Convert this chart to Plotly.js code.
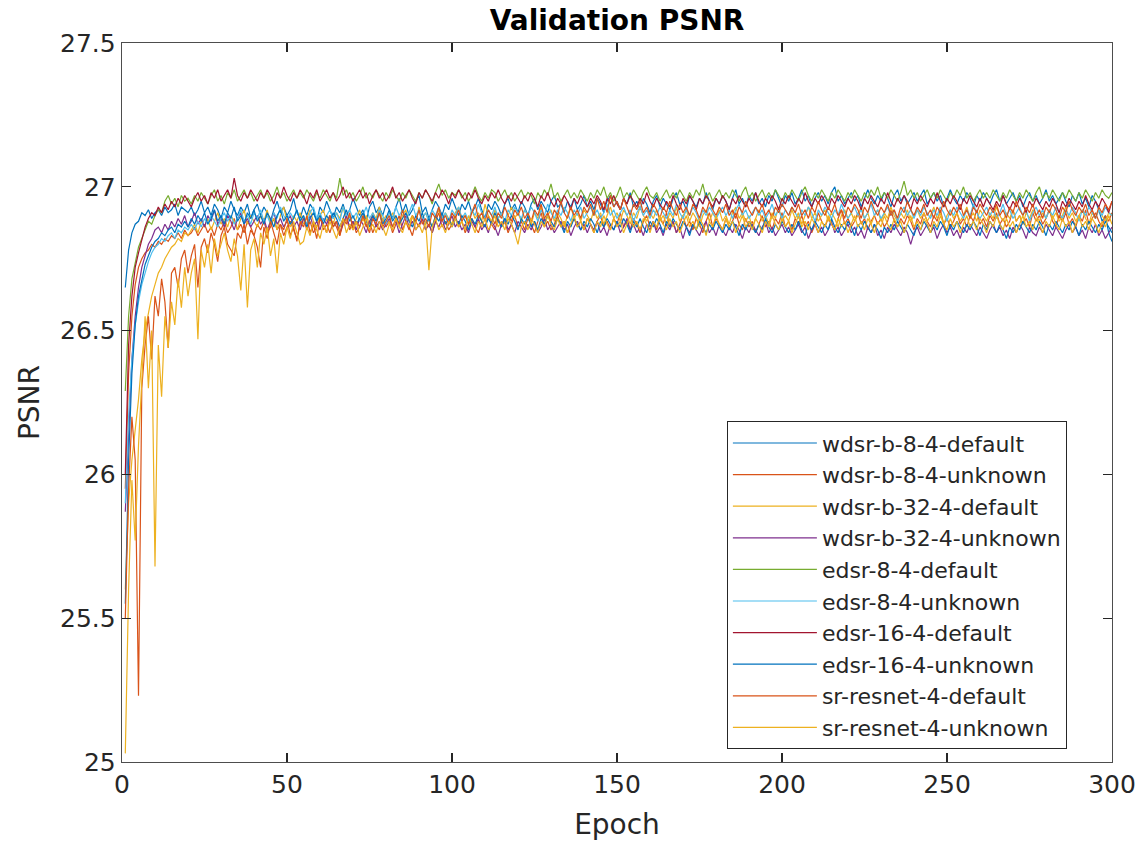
<!DOCTYPE html>
<html>
<head>
<meta charset="utf-8">
<script src="https://cdn.plot.ly/plotly-3.0.1.min.js"></script>
<style>html,body{margin:0;padding:0;background:#fff;}#chart{width:1144px;height:846px;}</style>
</head>
<body>
<div id="chart"></div>
<script>
const seriesNames = ["wdsr-b-8-4-default","wdsr-b-8-4-unknown","wdsr-b-32-4-default","wdsr-b-32-4-unknown","edsr-8-4-default","edsr-8-4-unknown","edsr-16-4-default","edsr-16-4-unknown","sr-resnet-4-default","sr-resnet-4-unknown"];
const seriesColors = ["#0072BD","#D95319","#EDB120","#7E2F8E","#77AC30","#4DBEEE","#A2142F","#0072BD","#D95319","#EDB120"];

const wdsr_b_8_4_default = [
26.65,26.78,26.84,26.87,26.88,26.91,26.90,26.92,26.89,26.91,26.92,26.90,26.93,26.91,26.92,26.94,26.90,26.93,26.92,26.91,
26.93,26.90,26.92,26.95,26.91,26.93,26.90,26.94,26.92,26.89,26.93,26.91,26.95,26.92,26.90,26.93,26.91,26.94,26.89,26.92,
26.94,26.90,26.93,26.91,26.88,26.92,26.95,26.91,26.93,26.90,26.92,26.96,26.91,26.89,26.93,26.90,26.94,26.92,26.88,26.93,
26.91,26.95,26.92,26.89,26.93,26.91,26.94,26.90,26.92,26.96,26.93,26.90,26.92,26.88,26.93,26.95,26.91,26.93,26.90,26.94,
26.92,26.89,26.93,26.96,26.91,26.94,26.90,26.92,26.95,26.97,26.91,26.93,26.89,26.92,26.95,26.93,26.90,26.94,26.92,26.96,
26.93,26.90,26.94,26.92,26.95,26.91,26.93,26.96,26.92,26.89,26.94,26.92,26.95,26.93,26.90,26.94,26.96,26.92,26.94,26.91,
26.95,26.93,26.90,26.94,26.96,26.92,26.95,26.93,26.91,26.95,26.97,26.93,26.94,26.91,26.95,26.93,26.96,26.92,26.94,26.97,
26.93,26.95,26.92,26.96,26.94,26.91,26.95,26.97,26.93,26.95,26.92,26.96,26.94,26.98,26.93,26.95,26.92,26.96,26.94,26.91,
26.95,26.97,26.93,26.96,26.94,26.92,26.96,26.98,26.94,26.95,26.92,26.97,26.95,26.93,26.96,26.94,26.98,26.95,26.92,26.96,
26.94,26.97,26.95,26.92,26.96,26.99,26.94,26.96,26.93,26.97,26.95,26.98,26.94,26.96,26.93,26.97,26.95,26.99,26.96,26.93,
26.97,26.95,26.98,26.94,26.96,26.99,26.95,26.97,26.93,26.96,26.98,26.95,26.97,26.94,26.98,27.00,26.95,26.97,26.94,26.96,
26.98,26.95,26.97,26.93,26.96,26.99,26.96,26.94,26.97,26.95,26.98,26.96,26.93,26.97,26.99,26.95,26.97,26.94,26.96,26.98,
26.95,26.97,26.99,26.94,26.96,26.98,26.95,26.97,26.93,26.96,26.99,26.96,26.94,26.97,26.95,26.98,26.96,26.93,26.97,26.95,
26.98,26.96,26.94,26.97,26.99,26.95,26.97,26.94,26.96,26.98,26.95,26.97,26.93,26.96,26.98,26.95,26.97,26.94,26.96,26.99,
26.95,26.97,26.94,26.96,26.98,26.95,26.93,26.97,26.95,26.98,26.94,26.96,26.93,26.97,26.95,26.92,26.88,26.90,26.84,26.81];

const wdsr_b_8_4_unknown = [
25.95,26.35,26.55,26.66,26.72,26.75,26.77,26.78,26.80,26.79,26.81,26.80,26.82,26.81,26.83,26.82,26.84,26.82,26.85,26.83,
26.84,26.86,26.83,26.85,26.87,26.84,26.86,26.83,26.87,26.85,26.88,26.84,26.86,26.89,26.85,26.87,26.84,26.88,26.86,26.83,
26.87,26.85,26.88,26.84,26.86,26.89,26.85,26.87,26.83,26.86,26.88,26.85,26.82,26.87,26.89,26.85,26.88,26.84,26.86,26.90,
26.85,26.87,26.84,26.88,26.86,26.83,26.87,26.89,26.85,26.88,26.84,26.86,26.90,26.86,26.88,26.84,26.87,26.85,26.89,26.86,
26.88,26.84,26.87,26.90,26.85,26.88,26.86,26.83,26.88,26.86,26.89,26.85,26.87,26.84,26.88,26.91,26.86,26.88,26.85,26.87,
26.90,26.86,26.88,26.84,26.87,26.89,26.86,26.84,26.88,26.86,26.90,26.87,26.85,26.89,26.86,26.88,26.84,26.87,26.90,26.86,
26.88,26.85,26.89,26.87,26.84,26.88,26.91,26.86,26.88,26.85,26.87,26.90,26.86,26.88,26.84,26.87,26.89,26.86,26.88,26.85,
26.89,26.87,26.84,26.88,26.90,26.86,26.88,26.85,26.89,26.87,26.91,26.86,26.88,26.85,26.89,26.87,26.84,26.88,26.90,26.86,
26.88,26.85,26.89,26.87,26.91,26.86,26.88,26.84,26.87,26.90,26.86,26.88,26.85,26.89,26.87,26.84,26.88,26.91,26.86,26.89,
26.87,26.85,26.89,26.86,26.88,26.91,26.87,26.85,26.89,26.86,26.88,26.84,26.87,26.90,26.86,26.88,26.85,26.89,26.87,26.91,
26.86,26.88,26.85,26.89,26.87,26.90,26.86,26.88,26.84,26.87,26.91,26.88,26.86,26.89,26.87,26.85,26.89,26.92,26.87,26.89,
26.86,26.88,26.91,26.87,26.89,26.85,26.88,26.90,26.87,26.89,26.86,26.88,26.92,26.88,26.86,26.89,26.87,26.90,26.88,26.85,
26.89,26.87,26.91,26.88,26.86,26.90,26.88,26.92,26.87,26.89,26.86,26.88,26.91,26.87,26.89,26.86,26.90,26.88,26.92,26.87,
26.89,26.86,26.90,26.88,26.91,26.87,26.89,26.86,26.88,26.92,26.88,26.90,26.87,26.89,26.86,26.91,26.88,26.90,26.87,26.89,
26.92,26.88,26.86,26.90,26.88,26.91,26.87,26.89,26.86,26.90,26.88,26.92,26.87,26.89,26.91,26.88,26.86,26.90,26.88,26.91];

const wdsr_b_32_4_default = [
25.60,25.90,26.05,26.15,26.26,26.40,26.50,26.56,26.62,26.66,26.70,26.72,26.75,26.77,26.79,26.80,26.82,26.81,26.84,26.83,
26.85,26.87,26.84,26.88,26.86,26.89,26.85,26.88,26.91,26.87,26.89,26.86,26.90,26.88,26.85,26.89,26.92,26.87,26.90,26.88,
26.86,26.90,26.88,26.92,26.87,26.89,26.85,26.90,26.93,26.88,26.86,26.90,26.88,26.91,26.87,26.89,26.92,26.88,26.86,26.90,
26.92,26.88,26.90,26.87,26.91,26.89,26.93,26.88,26.90,26.86,26.89,26.92,26.88,26.90,26.87,26.91,26.89,26.93,26.88,26.90,
26.87,26.91,26.89,26.86,26.90,26.92,26.88,26.90,26.87,26.93,26.89,26.91,26.88,26.86,26.90,26.92,26.88,26.91,26.89,26.87,
26.91,26.93,26.89,26.90,26.87,26.92,26.89,26.91,26.88,26.94,26.90,26.88,26.92,26.89,26.91,26.87,26.90,26.93,26.89,26.91,
26.88,26.92,26.90,26.87,26.91,26.89,26.93,26.88,26.90,26.92,26.88,26.91,26.89,26.86,26.90,26.93,26.89,26.91,26.88,26.92,
26.90,26.88,26.92,26.89,26.91,26.87,26.90,26.93,26.89,26.91,26.88,26.92,26.90,26.87,26.91,26.89,26.93,26.90,26.88,26.91,
26.89,26.92,26.88,26.90,26.87,26.91,26.89,26.93,26.88,26.90,26.92,26.88,26.91,26.89,26.86,26.90,26.92,26.88,26.91,26.89,
26.92,26.88,26.90,26.87,26.91,26.93,26.89,26.91,26.88,26.90,26.86,26.89,26.92,26.88,26.90,26.87,26.91,26.89,26.93,26.88,
26.90,26.88,26.92,26.89,26.91,26.87,26.90,26.93,26.89,26.91,26.88,26.90,26.92,26.88,26.91,26.89,26.86,26.90,26.92,26.89,
26.91,26.88,26.90,26.93,26.89,26.91,26.87,26.90,26.92,26.88,26.91,26.89,26.93,26.90,26.88,26.91,26.89,26.92,26.88,26.90,
26.92,26.89,26.91,26.88,26.90,26.93,26.89,26.91,26.87,26.90,26.92,26.89,26.91,26.88,26.90,26.93,26.89,26.91,26.88,26.92,
26.90,26.88,26.91,26.89,26.93,26.90,26.88,26.91,26.89,26.92,26.88,26.90,26.87,26.91,26.89,26.92,26.90,26.88,26.91,26.89,
26.92,26.89,26.91,26.88,26.90,26.93,26.89,26.91,26.88,26.90,26.92,26.89,26.87,26.91,26.89,26.92,26.90,26.88,26.91,26.90];

const wdsr_b_32_4_unknown = [
25.87,26.15,26.40,26.55,26.65,26.72,26.76,26.80,26.82,26.85,26.86,26.84,26.87,26.85,26.88,26.86,26.89,26.87,26.90,26.86,
26.88,26.91,26.87,26.89,26.86,26.90,26.88,26.92,26.87,26.89,26.86,26.90,26.88,26.85,26.89,26.91,26.87,26.89,26.86,26.88,
26.90,26.87,26.89,26.85,26.88,26.91,26.87,26.89,26.86,26.88,26.90,26.86,26.88,26.85,26.89,26.87,26.90,26.86,26.88,26.85,
26.89,26.87,26.90,26.86,26.88,26.84,26.87,26.90,26.86,26.88,26.85,26.89,26.87,26.84,26.88,26.90,26.86,26.88,26.85,26.87,
26.89,26.86,26.88,26.84,26.87,26.90,26.86,26.88,26.85,26.87,26.89,26.85,26.87,26.84,26.88,26.86,26.89,26.85,26.87,26.90,
26.86,26.88,26.85,26.87,26.84,26.88,26.86,26.89,26.85,26.87,26.84,26.88,26.86,26.83,26.87,26.89,26.85,26.87,26.84,26.88,
26.86,26.84,26.87,26.85,26.88,26.84,26.86,26.89,26.85,26.87,26.84,26.86,26.88,26.85,26.87,26.83,26.86,26.88,26.85,26.87,
26.84,26.87,26.85,26.88,26.84,26.86,26.83,26.87,26.85,26.88,26.84,26.86,26.89,26.85,26.87,26.84,26.86,26.83,26.87,26.85,
26.88,26.84,26.86,26.83,26.87,26.85,26.88,26.84,26.86,26.82,26.86,26.84,26.87,26.85,26.83,26.86,26.88,26.84,26.86,26.83,
26.87,26.85,26.83,26.86,26.84,26.87,26.85,26.82,26.86,26.84,26.87,26.85,26.83,26.86,26.88,26.84,26.86,26.83,26.85,26.87,
26.84,26.86,26.83,26.85,26.87,26.84,26.86,26.82,26.85,26.87,26.84,26.86,26.83,26.85,26.88,26.84,26.86,26.83,26.85,26.87,
26.84,26.86,26.83,26.85,26.82,26.86,26.84,26.87,26.83,26.85,26.82,26.86,26.84,26.87,26.85,26.83,26.86,26.84,26.80,26.84,
26.86,26.83,26.85,26.87,26.84,26.86,26.82,26.85,26.87,26.84,26.86,26.83,26.85,26.82,26.86,26.84,26.87,26.85,26.83,26.86,
26.84,26.82,26.85,26.87,26.84,26.86,26.83,26.85,26.82,26.86,26.84,26.87,26.85,26.82,26.86,26.84,26.83,26.86,26.84,26.87,
26.85,26.83,26.86,26.84,26.82,26.85,26.87,26.84,26.86,26.83,26.85,26.82,26.86,26.84,26.87,26.83,26.85,26.82,26.84,26.86];

const edsr_8_4_default = [
26.29,26.55,26.68,26.74,26.79,26.82,26.85,26.88,26.87,26.90,26.92,26.91,26.95,26.97,26.94,26.96,26.93,26.97,26.95,26.96,
26.94,26.97,26.95,26.98,26.96,26.94,26.97,26.99,26.95,26.97,26.94,26.98,26.96,26.99,26.95,26.97,26.99,26.96,26.98,26.95,
26.97,26.99,26.96,26.98,26.95,26.97,27.00,26.96,26.98,26.95,26.97,26.99,26.96,26.98,26.96,26.99,26.97,26.95,26.98,26.96,
26.99,26.97,26.95,26.98,26.96,27.03,26.97,26.99,26.96,26.98,26.95,26.97,27.00,26.96,26.98,26.96,26.99,26.97,26.95,26.98,
26.96,26.99,26.97,26.95,26.98,26.96,26.99,26.97,26.95,26.98,26.96,26.99,26.97,26.94,26.98,27.01,26.97,26.99,26.96,26.98,
26.97,26.99,26.96,26.98,26.95,26.97,27.00,26.97,26.95,26.98,26.96,26.99,26.98,26.95,26.97,26.99,26.96,26.98,26.95,26.97,
26.99,26.96,26.98,26.97,26.94,26.98,26.96,26.99,26.97,27.01,26.96,26.98,26.95,26.97,26.99,26.96,26.98,26.96,26.99,26.97,
26.95,26.98,26.96,26.99,26.97,27.00,26.96,26.98,26.95,26.97,27.00,26.96,26.98,26.96,26.99,26.97,26.95,26.98,27.00,26.97,
26.96,26.98,26.95,26.97,26.99,26.96,26.98,26.96,26.99,26.97,26.95,26.98,26.96,26.99,26.97,27.01,26.96,26.98,26.95,26.97,
26.99,26.96,26.98,26.96,26.99,26.97,26.95,26.98,27.00,26.96,26.98,26.95,26.97,26.99,26.96,26.98,26.96,26.99,26.97,26.95,
26.98,26.96,26.99,26.97,26.95,26.98,27.00,26.97,26.95,26.98,26.96,26.99,26.97,26.95,26.98,26.96,26.99,26.97,26.95,26.98,
26.96,26.99,26.97,26.95,26.98,26.96,26.99,26.97,27.00,26.96,26.98,26.96,26.99,26.97,26.95,26.98,27.02,26.97,26.99,26.96,
26.98,26.95,26.97,26.99,26.96,26.98,26.96,26.99,26.97,26.95,26.98,26.96,26.99,26.97,27.00,26.96,26.98,26.95,26.97,26.99,
26.96,26.98,26.96,26.99,26.97,26.95,26.98,26.96,26.99,26.97,26.95,26.98,26.96,26.99,26.97,26.95,26.98,27.00,26.96,26.98,
26.96,26.99,26.97,26.95,26.98,26.96,26.99,26.97,26.95,26.98,26.96,26.99,26.97,26.95,26.98,26.96,26.99,26.97,26.96,26.98];

const edsr_8_4_unknown = [
25.90,26.20,26.40,26.52,26.60,26.66,26.70,26.74,26.77,26.79,26.80,26.82,26.81,26.83,26.84,26.82,26.85,26.84,26.86,26.85,
26.87,26.85,26.88,26.86,26.89,26.87,26.90,26.88,26.86,26.89,26.91,26.88,26.90,26.87,26.89,26.92,26.88,26.90,26.87,26.91,
26.89,26.92,26.88,26.90,26.87,26.91,26.89,26.93,26.90,26.88,26.91,26.89,26.92,26.88,26.90,26.87,26.91,26.93,26.89,26.91,
26.88,26.90,26.92,26.89,26.91,26.88,26.93,26.90,26.92,26.89,26.91,26.88,26.90,26.93,26.89,26.91,26.88,26.92,26.90,26.87,
26.91,26.89,26.93,26.90,26.92,26.88,26.91,26.94,26.90,26.92,26.89,26.91,26.88,26.92,26.90,26.93,26.89,26.91,26.88,26.92,
26.90,26.93,26.89,26.91,26.88,26.92,26.90,26.94,26.91,26.89,26.92,26.90,26.93,26.89,26.91,26.88,26.92,26.90,26.93,26.91,
26.89,26.92,26.90,26.93,26.91,26.88,26.92,26.90,26.94,26.91,26.89,26.92,26.90,26.93,26.91,26.88,26.92,26.90,26.93,26.89,
26.91,26.93,26.90,26.92,26.89,26.91,26.94,26.90,26.92,26.89,26.91,26.93,26.90,26.92,26.88,26.91,26.93,26.90,26.92,26.89,
26.92,26.90,26.93,26.91,26.89,26.92,26.90,26.94,26.91,26.89,26.92,26.90,26.93,26.91,26.88,26.92,26.90,26.93,26.91,26.89,
26.91,26.93,26.90,26.92,26.89,26.92,26.94,26.90,26.92,26.89,26.91,26.93,26.90,26.92,26.89,26.91,26.94,26.90,26.92,26.89,
26.92,26.90,26.93,26.91,26.89,26.92,26.90,26.93,26.91,26.88,26.92,26.90,26.93,26.91,26.89,26.92,26.90,26.94,26.91,26.89,
26.91,26.93,26.90,26.92,26.89,26.91,26.94,26.90,26.92,26.89,26.91,26.93,26.90,26.92,26.88,26.91,26.93,26.90,26.92,26.89,
26.92,26.90,26.93,26.91,26.89,26.92,26.90,26.93,26.91,26.88,26.92,26.90,26.93,26.91,26.89,26.92,26.90,26.94,26.91,26.89,
26.91,26.93,26.90,26.92,26.89,26.91,26.94,26.90,26.92,26.89,26.91,26.93,26.90,26.92,26.88,26.91,26.93,26.90,26.92,26.89,
26.92,26.90,26.93,26.91,26.89,26.92,26.90,26.93,26.91,26.88,26.92,26.90,26.93,26.91,26.89,26.92,26.90,26.93,26.91,26.90];

const edsr_16_4_default = [
26.00,26.45,26.62,26.72,26.77,26.82,26.86,26.89,26.91,26.90,26.93,26.91,26.94,26.92,26.95,26.93,26.96,26.94,26.97,26.95,
26.93,26.96,26.98,26.95,26.97,26.94,26.98,26.96,26.99,26.95,26.97,26.99,26.96,27.03,26.97,26.95,26.98,26.96,26.99,26.97,
26.95,26.98,26.96,26.99,26.97,26.94,26.98,26.96,27.00,26.97,26.95,26.98,26.96,26.99,26.97,26.94,26.98,26.96,26.99,26.95,
26.97,26.99,26.96,26.98,26.95,26.97,27.00,26.96,26.98,26.95,26.97,26.99,26.96,26.98,26.94,26.97,26.99,26.96,26.98,26.95,
26.97,27.00,26.96,26.98,26.95,26.97,26.99,26.96,26.94,26.98,26.96,26.99,26.97,26.95,26.98,26.96,26.99,26.97,26.94,26.98,
26.96,26.99,26.97,26.95,26.98,26.96,26.99,26.96,26.94,26.97,26.95,26.98,26.96,26.99,26.96,26.94,26.97,26.95,26.98,26.96,
26.94,26.97,26.95,26.98,26.96,26.93,26.97,26.95,26.98,26.95,26.93,26.96,26.94,26.97,26.95,26.92,26.96,26.94,26.97,26.95,
26.93,26.96,26.94,26.97,26.95,26.92,26.96,26.94,26.97,26.94,26.92,26.96,26.94,26.97,26.95,26.93,26.96,26.94,26.98,26.95,
26.93,26.96,26.94,26.92,26.95,26.93,26.97,26.94,26.92,26.96,26.94,26.97,26.95,26.92,26.96,26.94,26.97,26.95,26.93,26.96,
26.94,26.97,26.95,26.92,26.96,26.94,26.97,26.95,26.93,26.96,26.94,26.98,26.95,26.93,26.96,26.94,26.97,26.95,26.92,26.96,
26.94,26.97,26.95,26.93,26.96,26.94,26.98,26.95,26.93,26.96,26.94,26.97,26.95,26.92,26.96,26.94,26.97,26.95,26.93,26.96,
26.94,26.97,26.95,26.92,26.96,26.94,26.97,26.95,26.93,26.96,26.94,26.98,26.95,26.93,26.96,26.94,26.97,26.95,26.92,26.96,
26.94,26.97,26.95,26.93,26.96,26.94,26.98,26.95,26.93,26.96,26.94,26.97,26.95,26.92,26.96,26.94,26.97,26.95,26.93,26.96,
26.93,26.96,26.94,26.92,26.95,26.93,26.97,26.94,26.92,26.95,26.93,26.96,26.94,26.91,26.95,26.93,26.96,26.94,26.92,26.95,
26.93,26.96,26.94,26.91,26.95,26.93,26.96,26.94,26.92,26.95,26.93,26.97,26.94,26.92,26.95,26.93,26.96,26.94,26.91,26.95];

const edsr_16_4_unknown = [
25.55,26.05,26.35,26.52,26.62,26.68,26.73,26.76,26.79,26.81,26.82,26.84,26.83,26.85,26.86,26.84,26.87,26.86,26.88,26.86,
26.89,26.87,26.90,26.88,26.91,26.87,26.89,26.92,26.88,26.90,26.87,26.91,26.89,26.93,26.88,26.90,26.87,26.91,26.89,26.92,
26.88,26.90,26.87,26.91,26.89,26.86,26.90,26.92,26.88,26.90,26.87,26.89,26.92,26.88,26.90,26.86,26.89,26.91,26.88,26.90,
26.87,26.90,26.88,26.91,26.89,26.86,26.89,26.92,26.88,26.90,26.87,26.89,26.91,26.88,26.86,26.90,26.88,26.91,26.87,26.89,
26.92,26.88,26.90,26.87,26.89,26.91,26.88,26.86,26.90,26.88,26.91,26.87,26.89,26.86,26.90,26.88,26.91,26.87,26.89,26.86,
26.89,26.87,26.90,26.88,26.85,26.89,26.87,26.90,26.88,26.86,26.89,26.87,26.91,26.88,26.86,26.89,26.87,26.90,26.88,26.85,
26.89,26.87,26.90,26.86,26.88,26.85,26.89,26.87,26.90,26.88,26.86,26.89,26.87,26.84,26.88,26.86,26.89,26.87,26.85,26.88,
26.86,26.89,26.87,26.84,26.88,26.86,26.89,26.87,26.85,26.88,26.86,26.89,26.87,26.84,26.88,26.86,26.89,26.86,26.84,26.88,
26.86,26.89,26.87,26.84,26.88,26.86,26.89,26.87,26.85,26.88,26.86,26.83,26.87,26.85,26.88,26.86,26.84,26.87,26.85,26.88,
26.86,26.84,26.87,26.85,26.88,26.86,26.83,26.87,26.85,26.88,26.86,26.84,26.87,26.85,26.89,26.86,26.84,26.87,26.85,26.88,
26.86,26.84,26.87,26.85,26.88,26.85,26.83,26.87,26.85,26.88,26.86,26.84,26.87,26.85,26.89,26.86,26.84,26.87,26.85,26.88,
26.86,26.83,26.87,26.85,26.88,26.86,26.84,26.87,26.85,26.82,26.86,26.84,26.87,26.85,26.88,26.86,26.84,26.87,26.85,26.83,
26.87,26.85,26.88,26.86,26.84,26.87,26.85,26.88,26.86,26.83,26.87,26.85,26.88,26.86,26.84,26.87,26.85,26.88,26.86,26.83,
26.87,26.85,26.88,26.86,26.84,26.87,26.85,26.82,26.86,26.84,26.87,26.85,26.88,26.86,26.84,26.87,26.85,26.88,26.86,26.83,
26.87,26.85,26.88,26.86,26.84,26.87,26.85,26.88,26.86,26.83,26.87,26.85,26.88,26.86,26.84,26.87,26.85,26.88,26.86,26.84];

const sr_resnet_4_default = [
25.50,25.95,26.20,26.05,25.23,26.30,26.45,26.55,26.40,26.62,26.55,26.68,26.60,26.44,26.70,26.72,26.65,26.75,26.78,26.70,
26.76,26.80,26.65,26.79,26.82,26.77,26.84,26.80,26.74,26.83,26.86,26.80,26.78,26.76,26.84,26.82,26.87,26.80,26.85,26.83,
26.79,26.72,26.86,26.82,26.88,26.84,26.80,26.87,26.85,26.89,26.83,26.86,26.81,26.88,26.86,26.90,26.84,26.87,26.82,26.89,
26.87,26.84,26.90,26.86,26.88,26.83,26.89,26.87,26.91,26.85,26.88,26.86,26.90,26.87,26.84,26.89,26.87,26.91,26.86,26.88,
26.90,26.86,26.89,26.87,26.92,26.88,26.85,26.90,26.88,26.92,26.87,26.89,26.86,26.91,26.89,26.93,26.88,26.90,26.87,26.91,
26.89,26.92,26.88,26.90,26.87,26.91,26.94,26.89,26.91,26.88,26.92,26.90,26.87,26.91,26.89,26.93,26.90,26.88,26.92,26.90,
26.93,26.89,26.91,26.88,26.92,26.90,26.94,26.89,26.91,26.88,26.92,26.90,26.95,26.91,26.89,26.93,26.90,26.92,26.89,26.93,
26.91,26.94,26.90,26.96,26.92,26.95,26.91,26.97,26.93,26.95,26.92,26.96,26.93,26.90,26.94,26.92,26.95,26.91,26.93,26.90,
26.94,26.92,26.89,26.93,26.91,26.95,26.92,26.90,26.94,26.91,26.93,26.90,26.94,26.92,26.89,26.93,26.91,26.95,26.92,26.90,
26.93,26.91,26.94,26.90,26.92,26.89,26.93,26.91,26.95,26.92,26.90,26.93,26.91,26.94,26.90,26.92,26.89,26.93,26.91,26.94,
26.92,26.90,26.93,26.91,26.94,26.90,26.92,26.89,26.93,26.91,26.95,26.92,26.90,26.93,26.91,26.94,26.90,26.92,26.89,26.93,
26.91,26.94,26.92,26.89,26.93,26.91,26.95,26.92,26.90,26.93,26.91,26.94,26.90,26.92,26.89,26.93,26.91,26.95,26.92,26.90,
26.93,26.91,26.94,26.90,26.92,26.89,26.93,26.91,26.95,26.92,26.90,26.93,26.91,26.94,26.90,26.92,26.89,26.93,26.91,26.94,
26.92,26.90,26.93,26.91,26.94,26.90,26.92,26.89,26.93,26.91,26.95,26.92,26.90,26.93,26.91,26.94,26.90,26.92,26.89,26.93,
26.91,26.94,26.92,26.89,26.93,26.91,26.95,26.92,26.90,26.93,26.91,26.94,26.90,26.92,26.89,26.93,26.91,26.94,26.92,26.95];

const sr_resnet_4_unknown = [
25.03,25.60,25.98,25.77,26.10,26.35,26.55,26.30,26.50,25.68,26.45,26.27,26.55,26.44,26.60,26.52,26.68,26.58,26.72,26.62,
26.70,26.75,26.47,26.78,26.72,26.80,26.70,26.82,26.76,26.80,26.84,26.78,26.74,26.82,26.76,26.64,26.80,26.58,26.78,26.82,
26.72,26.84,26.80,26.86,26.76,26.82,26.70,26.84,26.80,26.86,26.82,26.88,26.84,26.80,26.81,26.86,26.83,26.88,26.85,26.82,
26.87,26.84,26.88,26.85,26.82,26.86,26.89,26.84,26.87,26.85,26.88,26.83,26.86,26.89,26.85,26.87,26.84,26.88,26.86,26.83,
26.87,26.85,26.89,26.86,26.84,26.88,26.86,26.90,26.85,26.87,26.84,26.88,26.71,26.86,26.89,26.85,26.87,26.84,26.88,26.86,
26.89,26.86,26.88,26.85,26.90,26.87,26.84,26.88,26.86,26.89,26.85,26.87,26.90,26.86,26.88,26.85,26.89,26.87,26.84,26.80,
26.86,26.88,26.85,26.89,26.87,26.84,26.88,26.86,26.90,26.87,26.85,26.89,26.86,26.88,26.84,26.87,26.90,26.86,26.88,26.85,
26.89,26.87,26.84,26.88,26.86,26.90,26.87,26.85,26.89,26.86,26.88,26.84,26.87,26.90,26.86,26.88,26.85,26.89,26.87,26.84,
26.88,26.86,26.90,26.87,26.85,26.89,26.86,26.88,26.84,26.87,26.90,26.86,26.88,26.85,26.89,26.87,26.83,26.88,26.86,26.90,
26.87,26.85,26.89,26.86,26.88,26.84,26.87,26.90,26.86,26.88,26.85,26.89,26.87,26.84,26.88,26.86,26.90,26.87,26.85,26.89,
26.86,26.88,26.84,26.87,26.90,26.86,26.88,26.85,26.89,26.87,26.84,26.88,26.86,26.90,26.87,26.85,26.89,26.86,26.88,26.84,
26.87,26.90,26.86,26.88,26.85,26.89,26.87,26.84,26.88,26.86,26.90,26.87,26.85,26.89,26.86,26.88,26.84,26.87,26.90,26.86,
26.88,26.85,26.89,26.87,26.84,26.88,26.86,26.90,26.87,26.85,26.89,26.86,26.88,26.84,26.87,26.90,26.86,26.88,26.85,26.89,
26.87,26.84,26.88,26.86,26.90,26.87,26.85,26.89,26.86,26.88,26.84,26.87,26.90,26.86,26.88,26.85,26.89,26.87,26.84,26.88,
26.86,26.90,26.87,26.85,26.89,26.86,26.88,26.84,26.87,26.90,26.86,26.88,26.85,26.89,26.87,26.84,26.88,26.86,26.90,26.87];

const seriesValues = [wdsr_b_8_4_default, wdsr_b_8_4_unknown, wdsr_b_32_4_default, wdsr_b_32_4_unknown, edsr_8_4_default, edsr_8_4_unknown, edsr_16_4_default, edsr_16_4_unknown, sr_resnet_4_default, sr_resnet_4_unknown];

const xTicks = [0, 50, 100, 150, 200, 250, 300];
const yTicks = [25, 25.5, 26, 26.5, 27, 27.5];

const FONT = '"DejaVu Sans", "Liberation Sans", sans-serif';
const TXT = '#262626';

const traces = seriesValues.map((vals, i) => ({
  type: 'scatter',
  mode: 'lines',
  name: seriesNames[i],
  x: vals.map((_, k) => k + 1),
  y: vals,
  line: {color: seriesColors[i], width: 1.2}
}));

const axisCommon = {
  showline: true, linecolor: '#4d4d4d', linewidth: 1.3, mirror: 'ticks',
  ticks: 'inside', ticklen: 9, tickwidth: 1.2, tickcolor: '#262626',
  showgrid: false, zeroline: false,
  tickfont: {family: FONT, size: 25, color: TXT}
};

const layout = {
  width: 1144, height: 846,
  margin: {l: 122, r: 32, t: 43, b: 84},
  paper_bgcolor: '#ffffff', plot_bgcolor: '#ffffff',
  font: {family: FONT, color: TXT},
  title: {text: '<b>Validation PSNR</b>', font: {family: FONT, size: 28, color: '#000'}, xref: 'paper', x: 0.5, xanchor: 'center', yref: 'container', y: 0.976, yanchor: 'middle'},
  xaxis: Object.assign({}, axisCommon, {range: [0, 300], tickvals: xTicks, ticktext: xTicks.map(String),
    title: {text: 'Epoch', font: {family: FONT, size: 28, color: TXT}, standoff: 16}}),
  yaxis: Object.assign({}, axisCommon, {range: [25, 27.5], tickvals: yTicks, ticktext: yTicks.map(String),
    title: {text: 'PSNR', font: {family: FONT, size: 28, color: TXT}, standoff: 12}}),
  showlegend: true,
  legend: {x: 0.611, y: 0.474, xanchor: 'left', yanchor: 'top', bgcolor: '#ffffff', bordercolor: '#262626', borderwidth: 1,
    font: {family: FONT, size: 22, color: TXT}, itemwidth: 84, tracegroupgap: 0}
};

Plotly.newPlot('chart', traces, layout, {displayModeBar: false, staticPlot: true});
</script>
</body>
</html>
